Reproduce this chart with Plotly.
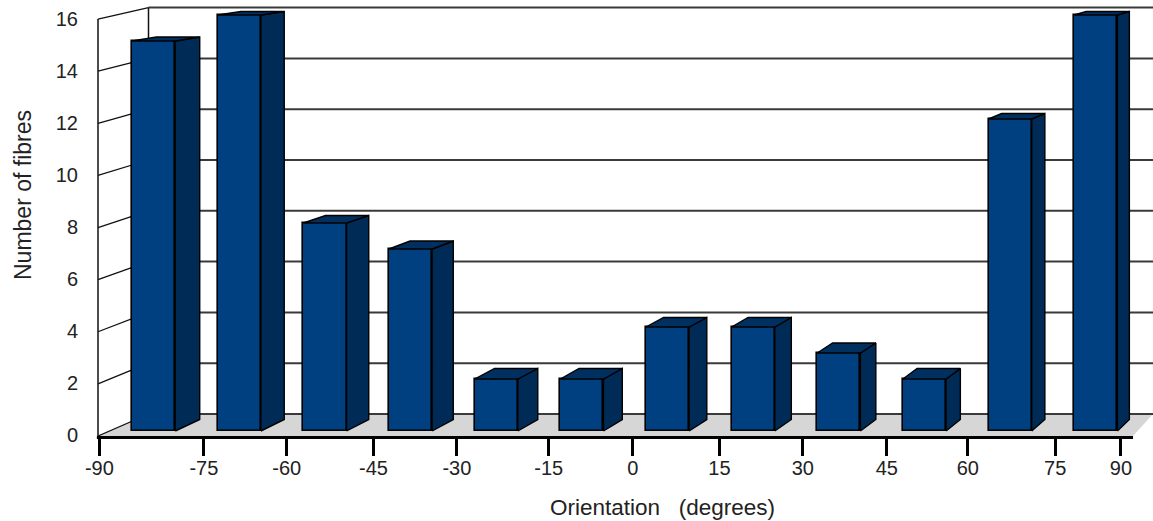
import plotly.graph_objects as go

# Fibre counts per 15-degree orientation bin
bin_centres = [-82.5, -67.5, -52.5, -37.5, -22.5, -7.5, 7.5, 22.5, 37.5, 52.5, 67.5, 82.5]
fibre_counts = [15, 16, 8, 7, 2, 2, 4, 4, 3, 2, 12, 16]

# Tick marks and their labels
tick_labels = ["-90", "-75", "-60", "-45", "-30", "-15", "0", "15", "30", "45", "60", "75", "90"]
tick_marks = [-92.0, -73.7, -59.2, -44.0, -29.4, -13.3, 1.4, 16.6, 31.2, 45.9, 60.1, 75.4, 86.9]
count_ticks = [0, 2, 4, 6, 8, 10, 12, 14, 16]

FONT = "Liberation Sans"
FRONT, SIDE, TOP = "#004080", "#002b57", "#00305f"
FLOOR, GRID, INK = "#d6d6d6", "#3a3a3a", "#000000"
TEXT = "#222222"

# Pseudo-3D geometry
WIDTH, HEIGHT = 1153, 521
DEG_PX = 5.71                 # pixels per degree
ZERO_PX = 624.7               # pixel column of 0 degrees
BASE_PX, UNIT_PX = 431, 26    # front plane of the bars
LABEL_BASE_PX = 434.5         # baseline of the labelled count axis
BAR_WIDTH = 43.2 / DEG_PX
PLOT_LEFT, PLOT_BOTTOM = 90, 436


def deg(px):
    return (px - ZERO_PX) / DEG_PX


def depth(c):
    # sideways reach of a bar's rear face shrinks towards the right of the box
    return (18.25 - 0.0758 * c) / DEG_PX


def back_y(v):
    # rear face of a bar, on the bar scale: depth narrows the scale slightly
    return ((BASE_PX - 419.5) + 25.5 * v) / UNIT_PX


def wall_y(v):
    # rear wall of the box, on the labelled scale
    return ((LABEL_BASE_PX - 414) + 25.4 * v) / UNIT_PX


def front_y(v):
    # front edge of the left wall, on the labelled scale
    return ((LABEL_BASE_PX - 436) + 26.06 * v) / UNIT_PX


WALL_X, FRONT_X, FLOOR_END_X = deg(148.5), deg(98), deg(1133)
X_MAX = deg(WIDTH)

fig = go.Figure()


def poly(xs, ys, fill, line=None, width=0, axis="y"):
    fig.add_trace(go.Scatter(
        x=xs, y=ys, mode="lines", fill="toself" if fill else None, fillcolor=fill,
        line=dict(color=line or "rgba(0,0,0,0)", width=width),
        yaxis=axis, hoverinfo="skip", showlegend=False))


# Floor of the box
poly([FRONT_X, WALL_X, X_MAX, FLOOR_END_X, FRONT_X],
     [front_y(0), wall_y(0), wall_y(0), front_y(0), front_y(0)], FLOOR)

# Rear wall gridlines and the ties across the left wall
for v in count_ticks:
    poly([WALL_X, X_MAX], [wall_y(v), wall_y(v)], None, GRID, 2)
    poly([FRONT_X, WALL_X], [front_y(v), wall_y(v)], None, "#111111", 1.3)
poly([WALL_X, WALL_X], [wall_y(0), wall_y(16)], None, "#111111", 1.5)
poly([FRONT_X, FRONT_X], [front_y(0), front_y(16)], None, "#111111", 1.5)

# Front faces, on the overlaid axis so they sit above the box
fig.add_trace(go.Bar(x=bin_centres, y=fibre_counts, width=BAR_WIDTH, yaxis="y2",
                     marker=dict(color=FRONT, line=dict(color=INK, width=1.6)),
                     showlegend=False, hoverinfo="x+y"))

# Side and top faces of each bar
for c, v in zip(bin_centres, fibre_counts):
    left, right = c - BAR_WIDTH / 2, c + BAR_WIDTH / 2
    d = depth(c)
    poly([right, right + d, right + d, right, right],
         [0, back_y(0), back_y(v), v, 0], SIDE, INK, 1.4, "y2")
    poly([left, left + d, right + d, right, left],
         [v, back_y(v), back_y(v), v, v], TOP, INK, 1.4, "y2")

plot_h = PLOT_BOTTOM

fig.update_layout(
    width=WIDTH, height=HEIGHT,
    margin=dict(l=PLOT_LEFT, r=0, t=0, b=HEIGHT - PLOT_BOTTOM, pad=0),
    paper_bgcolor="white", plot_bgcolor="white",
    font=dict(family=FONT, size=20, color=TEXT),
    xaxis=dict(
        range=[deg(PLOT_LEFT), X_MAX], tickmode="array",
        tickvals=tick_marks, ticktext=tick_labels,
        ticks="outside", ticklen=19, tickwidth=3, tickcolor=INK,
        ticklabelstandoff=-5,
        showgrid=False, zeroline=False, showline=False,
        tickangle=0, tickfont=dict(family=FONT, size=20, color=TEXT),
    ),
    yaxis=dict(
        range=[(LABEL_BASE_PX - plot_h) / UNIT_PX, LABEL_BASE_PX / UNIT_PX], tickmode="array",
        tickvals=count_ticks, ticktext=[str(t) for t in count_ticks],
        ticks="outside", ticklen=7, tickcolor="rgba(0,0,0,0)",
        showgrid=False, zeroline=False, showline=False,
        tickfont=dict(family=FONT, size=20, color=TEXT),
    ),
    yaxis2=dict(
        range=[(BASE_PX - plot_h) / UNIT_PX, BASE_PX / UNIT_PX],
        overlaying="y", side="left", visible=False,
    ),
    shapes=[dict(type="line", xref="x", yref="paper", x0=FRONT_X - 0.2, x1=FLOOR_END_X,
                 y0=-0.0035, y1=-0.0035, line=dict(color=INK, width=3))],
    annotations=[
        dict(text="Orientation\u00a0\u00a0\u00a0(degrees)", xref="x", yref="paper",
             x=deg(662), y=-(507 - plot_h) / plot_h, showarrow=False,
             xanchor="center", yanchor="middle", font=dict(size=22.5, color=TEXT)),
        dict(text="Number of fibres", xref="paper", yref="paper",
             x=-(PLOT_LEFT - 23) / (WIDTH - PLOT_LEFT), y=1 - 195 / plot_h, textangle=-90,
             showarrow=False, xanchor="center", yanchor="middle",
             font=dict(size=23, color=TEXT)),
    ],
    bargap=0,
)

fig.write_html("out.html")
